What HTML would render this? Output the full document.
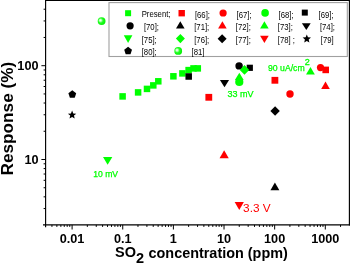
<!DOCTYPE html>
<html><head><meta charset="utf-8"><style>
html,body{margin:0;padding:0;background:#fff;overflow:hidden}
svg{display:block;will-change:transform}
text{font-family:"Liberation Sans",sans-serif}
</style></head><body>
<svg width="350" height="263" viewBox="0 0 350 263">
<defs><radialGradient id="bg" cx="0.42" cy="0.45" r="0.62" fx="0.33" fy="0.39"><stop offset="0" stop-color="#ffffff"/><stop offset="0.2" stop-color="#c8ffc8"/><stop offset="0.5" stop-color="#22ff22"/><stop offset="1" stop-color="#00ec00"/></radialGradient></defs>
<rect width="350" height="263" fill="#fff"/>
<rect x="119.35" y="93.15" width="6.50" height="6.50" fill="#00ff00"/>
<rect x="134.85" y="89.15" width="6.50" height="6.50" fill="#00ff00"/>
<rect x="143.75" y="85.65" width="6.50" height="6.50" fill="#00ff00"/>
<rect x="150.05" y="82.15" width="6.50" height="6.50" fill="#00ff00"/>
<rect x="155.05" y="78.05" width="6.50" height="6.50" fill="#00ff00"/>
<rect x="170.15" y="73.05" width="6.50" height="6.50" fill="#00ff00"/>
<rect x="179.15" y="70.15" width="6.50" height="6.50" fill="#00ff00"/>
<rect x="185.35" y="66.85" width="6.50" height="6.50" fill="#00ff00"/>
<rect x="190.25" y="65.15" width="6.50" height="6.50" fill="#00ff00"/>
<rect x="194.55" y="65.15" width="6.50" height="6.50" fill="#00ff00"/>
<rect x="185.45" y="73.25" width="6.50" height="6.50" fill="#000000"/>
<polygon points="72.30,90.30 76.20,93.13 74.71,97.72 69.89,97.72 68.40,93.13" fill="#000000"/>
<polygon points="72.10,110.60 73.26,113.40 76.28,113.64 73.98,115.61 74.69,118.56 72.10,116.98 69.51,118.56 70.22,115.61 67.92,113.64 70.94,113.40" fill="#000000"/>
<circle cx="101.60" cy="21.10" r="3.90" fill="url(#bg)"/>
<polygon points="103.00,157.00 112.30,157.00 107.65,164.80" fill="#00ff00"/>
<circle cx="239.10" cy="65.90" r="3.70" fill="#000000"/>
<rect x="246.70" y="64.70" width="6.20" height="6.20" fill="#000000"/>
<polygon points="244.50,65.10 249.25,69.90 244.50,74.70 239.75,69.90" fill="#00ff00"/>
<polygon points="239.30,72.80 243.70,80.00 234.90,80.00" fill="#00ff00"/>
<circle cx="239.30" cy="82.00" r="4.10" fill="#00ff00"/>
<polygon points="219.90,79.90 229.10,79.90 224.50,87.30" fill="#000000"/>
<rect x="205.40" y="93.90" width="6.80" height="6.80" fill="#ff0000"/>
<rect x="271.50" y="76.90" width="6.80" height="6.80" fill="#ff0000"/>
<circle cx="290.00" cy="94.00" r="3.70" fill="#ff0000"/>
<polygon points="310.45,66.90 314.85,74.40 306.05,74.40" fill="#00ff00"/>
<circle cx="320.50" cy="67.60" r="3.60" fill="#ff0000"/>
<rect x="322.40" y="66.60" width="6.60" height="6.60" fill="#ff0000"/>
<polygon points="325.50,81.60 329.80,89.10 321.20,89.10" fill="#ff0000"/>
<polygon points="224.15,150.20 228.75,158.20 219.55,158.20" fill="#ff0000"/>
<polygon points="274.90,182.40 279.35,190.30 270.45,190.30" fill="#000000"/>
<polygon points="275.10,106.30 279.80,111.00 275.10,115.70 270.40,111.00" fill="#000000"/>
<polygon points="234.65,202.00 243.85,202.00 239.25,209.90" fill="#ff0000"/>
<rect x="109.0" y="2.6" width="238.3" height="53.9" fill="#fff" stroke="#a0a0a0" stroke-width="1.1"/>
<rect x="125.10" y="10.20" width="6.00" height="6.00" fill="#00ff00"/>
<rect x="178.50" y="10.00" width="6.40" height="6.40" fill="#ff0000"/>
<circle cx="223.10" cy="13.00" r="3.60" fill="#ff0000"/>
<circle cx="265.10" cy="12.90" r="3.80" fill="#00ff00"/>
<rect x="301.80" y="9.60" width="6.00" height="6.00" fill="#000000"/>
<circle cx="130.10" cy="25.80" r="3.60" fill="#000000"/>
<polygon points="180.30,21.20 184.60,28.40 176.00,28.40" fill="#000000"/>
<polygon points="222.40,21.20 226.70,28.40 218.10,28.40" fill="#ff0000"/>
<polygon points="264.40,21.20 268.70,28.40 260.10,28.40" fill="#00ff00"/>
<polygon points="301.90,23.30 310.70,23.30 306.30,30.10" fill="#000000"/>
<polygon points="123.80,35.20 132.40,35.20 128.10,43.00" fill="#00ff00"/>
<polygon points="180.40,34.00 184.90,38.60 180.40,43.20 175.90,38.60" fill="#00ff00"/>
<polygon points="222.10,34.30 226.60,38.80 222.10,43.30 217.60,38.80" fill="#000000"/>
<polygon points="260.10,35.80 268.70,35.80 264.40,43.00" fill="#ff0000"/>
<polygon points="306.80,34.50 307.96,37.30 310.98,37.54 308.68,39.51 309.39,42.46 306.80,40.88 304.21,42.46 304.92,39.51 302.62,37.54 305.64,37.30" fill="#000000"/>
<polygon points="128.10,46.80 132.00,49.63 130.51,54.22 125.69,54.22 124.20,49.63" fill="#000000"/>
<circle cx="178.20" cy="50.90" r="3.90" fill="url(#bg)"/>
<line x1="45.60" y1="0.50" x2="349.40" y2="0.50" stroke="#000" stroke-width="1.15"/>
<line x1="43.0" y1="224.90" x2="349.97" y2="224.90" stroke="#000" stroke-width="1.15"/>
<line x1="45.60" y1="-0.07" x2="45.60" y2="227.2" stroke="#000" stroke-width="1.15"/>
<line x1="349.40" y1="-0.07" x2="349.40" y2="225.47" stroke="#000" stroke-width="1.15"/>
<line x1="51.95" y1="224.90" x2="51.95" y2="226.90" stroke="#000" stroke-width="1"/>
<line x1="56.86" y1="224.90" x2="56.86" y2="226.90" stroke="#000" stroke-width="1"/>
<line x1="60.87" y1="224.90" x2="60.87" y2="226.90" stroke="#000" stroke-width="1"/>
<line x1="64.26" y1="224.90" x2="64.26" y2="226.90" stroke="#000" stroke-width="1"/>
<line x1="67.19" y1="224.90" x2="67.19" y2="226.90" stroke="#000" stroke-width="1"/>
<line x1="69.78" y1="224.90" x2="69.78" y2="226.90" stroke="#000" stroke-width="1"/>
<line x1="72.10" y1="224.90" x2="72.10" y2="229.50" stroke="#000" stroke-width="1"/>
<line x1="87.34" y1="224.90" x2="87.34" y2="226.90" stroke="#000" stroke-width="1"/>
<line x1="96.26" y1="224.90" x2="96.26" y2="226.90" stroke="#000" stroke-width="1"/>
<line x1="102.59" y1="224.90" x2="102.59" y2="226.90" stroke="#000" stroke-width="1"/>
<line x1="107.50" y1="224.90" x2="107.50" y2="226.90" stroke="#000" stroke-width="1"/>
<line x1="111.51" y1="224.90" x2="111.51" y2="226.90" stroke="#000" stroke-width="1"/>
<line x1="114.90" y1="224.90" x2="114.90" y2="226.90" stroke="#000" stroke-width="1"/>
<line x1="117.83" y1="224.90" x2="117.83" y2="226.90" stroke="#000" stroke-width="1"/>
<line x1="120.42" y1="224.90" x2="120.42" y2="226.90" stroke="#000" stroke-width="1"/>
<line x1="122.74" y1="224.90" x2="122.74" y2="229.50" stroke="#000" stroke-width="1"/>
<line x1="137.98" y1="224.90" x2="137.98" y2="226.90" stroke="#000" stroke-width="1"/>
<line x1="146.90" y1="224.90" x2="146.90" y2="226.90" stroke="#000" stroke-width="1"/>
<line x1="153.23" y1="224.90" x2="153.23" y2="226.90" stroke="#000" stroke-width="1"/>
<line x1="158.14" y1="224.90" x2="158.14" y2="226.90" stroke="#000" stroke-width="1"/>
<line x1="162.15" y1="224.90" x2="162.15" y2="226.90" stroke="#000" stroke-width="1"/>
<line x1="165.54" y1="224.90" x2="165.54" y2="226.90" stroke="#000" stroke-width="1"/>
<line x1="168.47" y1="224.90" x2="168.47" y2="226.90" stroke="#000" stroke-width="1"/>
<line x1="171.06" y1="224.90" x2="171.06" y2="226.90" stroke="#000" stroke-width="1"/>
<line x1="173.38" y1="224.90" x2="173.38" y2="229.50" stroke="#000" stroke-width="1"/>
<line x1="188.62" y1="224.90" x2="188.62" y2="226.90" stroke="#000" stroke-width="1"/>
<line x1="197.54" y1="224.90" x2="197.54" y2="226.90" stroke="#000" stroke-width="1"/>
<line x1="203.87" y1="224.90" x2="203.87" y2="226.90" stroke="#000" stroke-width="1"/>
<line x1="208.78" y1="224.90" x2="208.78" y2="226.90" stroke="#000" stroke-width="1"/>
<line x1="212.79" y1="224.90" x2="212.79" y2="226.90" stroke="#000" stroke-width="1"/>
<line x1="216.18" y1="224.90" x2="216.18" y2="226.90" stroke="#000" stroke-width="1"/>
<line x1="219.11" y1="224.90" x2="219.11" y2="226.90" stroke="#000" stroke-width="1"/>
<line x1="221.70" y1="224.90" x2="221.70" y2="226.90" stroke="#000" stroke-width="1"/>
<line x1="224.02" y1="224.90" x2="224.02" y2="229.50" stroke="#000" stroke-width="1"/>
<line x1="239.26" y1="224.90" x2="239.26" y2="226.90" stroke="#000" stroke-width="1"/>
<line x1="248.18" y1="224.90" x2="248.18" y2="226.90" stroke="#000" stroke-width="1"/>
<line x1="254.51" y1="224.90" x2="254.51" y2="226.90" stroke="#000" stroke-width="1"/>
<line x1="259.42" y1="224.90" x2="259.42" y2="226.90" stroke="#000" stroke-width="1"/>
<line x1="263.43" y1="224.90" x2="263.43" y2="226.90" stroke="#000" stroke-width="1"/>
<line x1="266.82" y1="224.90" x2="266.82" y2="226.90" stroke="#000" stroke-width="1"/>
<line x1="269.75" y1="224.90" x2="269.75" y2="226.90" stroke="#000" stroke-width="1"/>
<line x1="272.34" y1="224.90" x2="272.34" y2="226.90" stroke="#000" stroke-width="1"/>
<line x1="274.66" y1="224.90" x2="274.66" y2="229.50" stroke="#000" stroke-width="1"/>
<line x1="289.90" y1="224.90" x2="289.90" y2="226.90" stroke="#000" stroke-width="1"/>
<line x1="298.82" y1="224.90" x2="298.82" y2="226.90" stroke="#000" stroke-width="1"/>
<line x1="305.15" y1="224.90" x2="305.15" y2="226.90" stroke="#000" stroke-width="1"/>
<line x1="310.06" y1="224.90" x2="310.06" y2="226.90" stroke="#000" stroke-width="1"/>
<line x1="314.07" y1="224.90" x2="314.07" y2="226.90" stroke="#000" stroke-width="1"/>
<line x1="317.46" y1="224.90" x2="317.46" y2="226.90" stroke="#000" stroke-width="1"/>
<line x1="320.39" y1="224.90" x2="320.39" y2="226.90" stroke="#000" stroke-width="1"/>
<line x1="322.98" y1="224.90" x2="322.98" y2="226.90" stroke="#000" stroke-width="1"/>
<line x1="325.30" y1="224.90" x2="325.30" y2="229.50" stroke="#000" stroke-width="1"/>
<line x1="340.54" y1="224.90" x2="340.54" y2="226.90" stroke="#000" stroke-width="1"/>
<line x1="43.60" y1="208.55" x2="45.60" y2="208.55" stroke="#000" stroke-width="1"/>
<line x1="43.60" y1="196.83" x2="45.60" y2="196.83" stroke="#000" stroke-width="1"/>
<line x1="43.60" y1="187.74" x2="45.60" y2="187.74" stroke="#000" stroke-width="1"/>
<line x1="43.60" y1="180.31" x2="45.60" y2="180.31" stroke="#000" stroke-width="1"/>
<line x1="43.60" y1="174.03" x2="45.60" y2="174.03" stroke="#000" stroke-width="1"/>
<line x1="43.60" y1="168.59" x2="45.60" y2="168.59" stroke="#000" stroke-width="1"/>
<line x1="43.60" y1="163.79" x2="45.60" y2="163.79" stroke="#000" stroke-width="1"/>
<line x1="41.40" y1="159.50" x2="45.60" y2="159.50" stroke="#000" stroke-width="1"/>
<line x1="43.60" y1="131.26" x2="45.60" y2="131.26" stroke="#000" stroke-width="1"/>
<line x1="43.60" y1="114.75" x2="45.60" y2="114.75" stroke="#000" stroke-width="1"/>
<line x1="43.60" y1="103.03" x2="45.60" y2="103.03" stroke="#000" stroke-width="1"/>
<line x1="43.60" y1="93.94" x2="45.60" y2="93.94" stroke="#000" stroke-width="1"/>
<line x1="43.60" y1="86.51" x2="45.60" y2="86.51" stroke="#000" stroke-width="1"/>
<line x1="43.60" y1="80.23" x2="45.60" y2="80.23" stroke="#000" stroke-width="1"/>
<line x1="43.60" y1="74.79" x2="45.60" y2="74.79" stroke="#000" stroke-width="1"/>
<line x1="43.60" y1="69.99" x2="45.60" y2="69.99" stroke="#000" stroke-width="1"/>
<line x1="41.40" y1="65.70" x2="45.60" y2="65.70" stroke="#000" stroke-width="1"/>
<line x1="43.60" y1="37.46" x2="45.60" y2="37.46" stroke="#000" stroke-width="1"/>
<line x1="43.60" y1="20.95" x2="45.60" y2="20.95" stroke="#000" stroke-width="1"/>
<line x1="43.60" y1="9.23" x2="45.60" y2="9.23" stroke="#000" stroke-width="1"/>
<text transform="translate(141.7 16.8) scale(0.9 1)" font-size="8.6" fill="#000" font-weight="normal" text-anchor="start" >Present;</text>
<text transform="translate(194.9 17.8) scale(0.9 1)" font-size="8.6" fill="#000" font-weight="normal" text-anchor="start" >[66];</text>
<text transform="translate(236.5 17.8) scale(0.9 1)" font-size="8.6" fill="#000" font-weight="normal" text-anchor="start" >[67];</text>
<text transform="translate(278.6 17.8) scale(0.9 1)" font-size="8.6" fill="#000" font-weight="normal" text-anchor="start" >[68];</text>
<text transform="translate(318.6 17.8) scale(0.9 1)" font-size="8.6" fill="#000" font-weight="normal" text-anchor="start" >[69];</text>
<text transform="translate(143.9 30.2) scale(0.9 1)" font-size="8.6" fill="#000" font-weight="normal" text-anchor="start" >[70];</text>
<text transform="translate(194.2 30.2) scale(0.9 1)" font-size="8.6" fill="#000" font-weight="normal" text-anchor="start" >[71];</text>
<text transform="translate(235.8 30.2) scale(0.9 1)" font-size="8.6" fill="#000" font-weight="normal" text-anchor="start" >[72];</text>
<text transform="translate(277.8 30.2) scale(0.9 1)" font-size="8.6" fill="#000" font-weight="normal" text-anchor="start" >[73];</text>
<text transform="translate(319.9 30.2) scale(0.9 1)" font-size="8.6" fill="#000" font-weight="normal" text-anchor="start" >[74];</text>
<text transform="translate(141.7 42.6) scale(0.9 1)" font-size="8.6" fill="#000" font-weight="normal" text-anchor="start" >[75];</text>
<text transform="translate(194.2 42.6) scale(0.9 1)" font-size="8.6" fill="#000" font-weight="normal" text-anchor="start" >[76];</text>
<text transform="translate(235.8 42.6) scale(0.9 1)" font-size="8.6" fill="#000" font-weight="normal" text-anchor="start" >[77];</text>
<text transform="translate(277.8 42.6) scale(0.9 1)" font-size="8.6" fill="#000" font-weight="normal" text-anchor="start" >[78] ;</text>
<text transform="translate(320.8 42.6) scale(0.9 1)" font-size="8.6" fill="#000" font-weight="normal" text-anchor="start" >[79]</text>
<text transform="translate(141.7 55.2) scale(0.9 1)" font-size="8.6" fill="#000" font-weight="normal" text-anchor="start" >[80];</text>
<text transform="translate(191.6 55.2) scale(0.9 1)" font-size="8.6" fill="#000" font-weight="normal" text-anchor="start" >[81]</text>
<text x="93.2" y="177.0" font-size="8.6" fill="#00ff00" font-weight="normal" text-anchor="start" stroke="#00ff00" stroke-width="0.25">10 mV</text>
<text x="227.4" y="97.3" font-size="9.0" fill="#00ff00" font-weight="normal" text-anchor="start" stroke="#00ff00" stroke-width="0.25">33 mV</text>
<text x="268.0" y="70.9" font-size="8.7" fill="#00ff00" font-weight="normal" text-anchor="start" stroke="#00ff00" stroke-width="0.25">90 uA/cm</text>
<text x="304.8" y="64.8" font-size="9.0" fill="#00ff00" font-weight="normal" text-anchor="start" stroke="#00ff00" stroke-width="0.3">2</text>
<text x="243.1" y="211.7" font-size="11.8" fill="#ff0000" font-weight="normal" text-anchor="start" >3.3 V</text>
<text x="72.10" y="243.2" font-size="12.7" fill="#000" font-weight="bold" text-anchor="middle" >0.01</text>
<text x="122.74" y="243.2" font-size="12.7" fill="#000" font-weight="bold" text-anchor="middle" >0.1</text>
<text x="173.38" y="243.2" font-size="12.7" fill="#000" font-weight="bold" text-anchor="middle" >1</text>
<text x="224.02" y="243.2" font-size="12.7" fill="#000" font-weight="bold" text-anchor="middle" >10</text>
<text x="274.66" y="243.2" font-size="12.7" fill="#000" font-weight="bold" text-anchor="middle" >100</text>
<text x="325.30" y="243.2" font-size="12.7" fill="#000" font-weight="bold" text-anchor="middle" >1000</text>
<text x="38.5" y="69.9" font-size="12.7" fill="#000" font-weight="bold" text-anchor="end" >100</text>
<text x="38.5" y="163.7" font-size="12.7" fill="#000" font-weight="bold" text-anchor="end" >10</text>
<text transform="translate(13.3 118.6) rotate(-90) scale(1.075 1)" font-size="16" font-weight="bold" fill="#000" text-anchor="middle">Response (%)</text>
<text x="115.0" y="257.0" font-size="14.5" font-weight="bold" fill="#000">SO<tspan dy="6">2</tspan><tspan dy="-5.5" dx="0.5" font-size="14.42"> concentration (ppm)</tspan></text>
</svg>
</body></html>
